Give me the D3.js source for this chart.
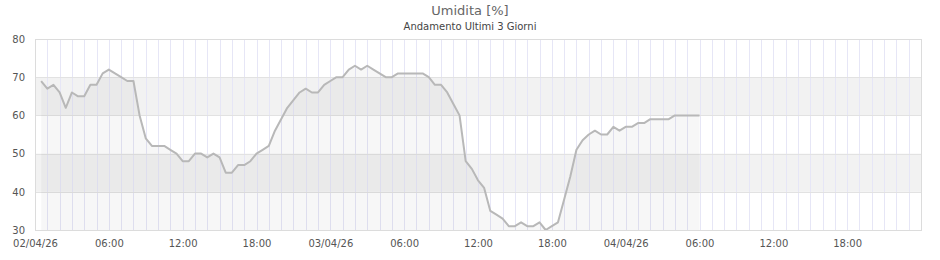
<!DOCTYPE html>
<html>
<head>
<meta charset="utf-8">
<script src="https://cdn.jsdelivr.net/npm/d3@7"></script>
<style>
  body { margin: 0; background: #fff; }
  #chart { width: 940px; height: 260px; }
  text { font-family: "DejaVu Sans", sans-serif; }
</style>
</head>
<body>
<div id="chart"></div>
<script>
// readings every 30 minutes, first one at 02/04/26 00:30
const startTime = "2026-04-02T00:30:00";
const stepMinutes = 30;
const humidity = [
  69, 67, 68, 66, 62, 66, 65, 65, 68, 68, 71, 72, 71, 70, 69, 69,
  60, 54, 52, 52, 52, 51, 50, 48, 48, 50, 50, 49, 50, 49, 45, 45,
  47, 47, 48, 50, 51, 52, 56, 59, 62, 64, 66, 67, 66, 66, 68, 69,
  70, 70, 72, 73, 72, 73, 72, 71, 70, 70, 71, 71, 71, 71, 71, 70,
  68, 68, 66, 63, 60, 48, 46, 43, 41, 35, 34, 33, 31, 31, 32, 31,
  31, 32, 30, 31, 32, 38, 44, 51, 53.5, 55, 56, 55, 55, 57, 56, 57,
  57, 58, 58, 59, 59, 59, 59, 60, 60, 60, 60, 60
];
const yTicks = [30, 40, 50, 60, 70, 80];
const bandRanges = [[60, 70], [40, 50]];
const xTickLabels = ["02/04/26", "06:00", "12:00", "18:00", "03/04/26", "06:00",
  "12:00", "18:00", "04/04/26", "06:00", "12:00", "18:00"];
const title = "Umidita [%]";
const subtitle = "Andamento Ultimi 3 Giorni";

const container = document.getElementById("chart");
const margin = { top: 39, right: 19, bottom: 30, left: 35 };
let { width, height } = container.getBoundingClientRect();
width = width - margin.left - margin.right;
height = height - margin.top - margin.bottom;

const t0 = new Date(startTime);
const data = humidity.map((v, i) => ({
  date: new Date(t0.getTime() + i * stepMinutes * 60000),
  value: v,
}));

const dayStart = new Date("2026-04-02T00:00:00");
const dayEnd = new Date("2026-04-05T00:00:00");

const x = d3.scaleTime().domain([dayStart, dayEnd]).range([0, width]);
const y = d3.scaleLinear().domain([30, 80]).range([height, 0]);

const root = d3
  .select(container)
  .append("svg")
  .attr("width", width + margin.left + margin.right)
  .attr("height", height + margin.top + margin.bottom);

// titles
root.append("text")
  .attr("x", 470).attr("y", 15)
  .attr("text-anchor", "middle")
  .attr("font-size", 13)
  .attr("fill", "#666")
  .text(title);
root.append("text")
  .attr("x", 470).attr("y", 30)
  .attr("text-anchor", "middle")
  .attr("font-size", 10)
  .attr("fill", "#444")
  .text(subtitle);

const svg = root.append("g")
  .attr("transform", `translate(${margin.left},${margin.top})`);

// grey bands
svg.selectAll(".band")
  .data(bandRanges)
  .join("rect")
  .attr("class", "band")
  .attr("x", 0)
  .attr("width", width)
  .attr("y", (d) => y(d[1]))
  .attr("height", (d) => y(d[0]) - y(d[1]))
  .attr("fill", "#f2f2f2");

// hourly vertical grid
const hours = d3.timeHour.range(dayStart, dayEnd);
svg.selectAll(".vgrid")
  .data(hours)
  .join("line")
  .attr("class", "vgrid")
  .attr("x1", (d) => Math.round(x(d)) + 0.5)
  .attr("x2", (d) => Math.round(x(d)) + 0.5)
  .attr("y1", 0)
  .attr("y2", height)
  .attr("stroke", "#e6e6f6");

// horizontal grid
svg.selectAll(".hgrid")
  .data(yTicks)
  .join("line")
  .attr("class", "hgrid")
  .attr("x1", 0)
  .attr("x2", width)
  .attr("y1", (d) => Math.round(y(d)) + 0.5)
  .attr("y2", (d) => Math.round(y(d)) + 0.5)
  .attr("stroke", "#e2e2e2");

// area under line
const area = d3.area()
  .x((d) => x(d.date))
  .y0(y(30))
  .y1((d) => y(d.value));
svg.append("path")
  .datum(data)
  .attr("d", area)
  .attr("fill", "rgba(0,0,0,0.03)");

const line = d3.line()
  .x((d) => x(d.date))
  .y((d) => y(d.value));
svg.append("path")
  .datum(data)
  .attr("d", line)
  .attr("fill", "none")
  .attr("stroke", "#b8b8b8")
  .attr("stroke-width", 2)
  .attr("stroke-linejoin", "round");

// plot border
svg.append("rect")
  .attr("x", 0.5).attr("y", 0.5)
  .attr("width", width).attr("height", height)
  .attr("fill", "none")
  .attr("stroke", "#dcdcdc");

// axes
const xTicks = d3.timeHour.every(6).range(dayStart, dayEnd);
const xAxis = d3.axisBottom(x)
  .tickValues(xTicks)
  .tickSize(0)
  .tickPadding(10)
  .tickFormat((d, i) => xTickLabels[i]);
const yAxis = d3.axisLeft(y)
  .tickValues(yTicks)
  .tickSize(0)
  .tickPadding(10);

const gx = svg.append("g")
  .attr("transform", `translate(0,${height})`)
  .call(xAxis);
const gy = svg.append("g").call(yAxis);

[gx, gy].forEach((g) => {
  g.select(".domain").remove();
  g.selectAll("text")
    .attr("font-family", "DejaVu Sans, sans-serif")
    .attr("font-size", 10)
    .attr("fill", "#555");
});
</script>
</body>
</html>
